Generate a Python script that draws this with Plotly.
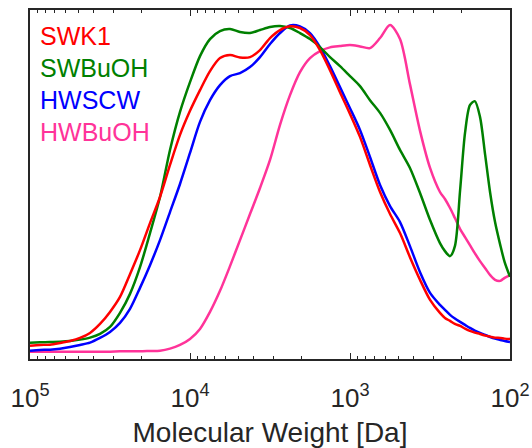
import plotly.graph_objects as go

# Molecular weight grid [Da] shared by all GPC traces
mw = [100000, 86596, 74989, 64938, 56234, 48697, 42170, 36517, 31623, 27384,
      23714, 20535, 17783, 15399, 13335, 11548, 10000, 8660, 7499, 6494,
      5623, 4870, 4217, 3652, 3162, 2738, 2371, 2054, 1778, 1540,
      1334, 1155, 1000, 866, 750, 649, 562, 487, 422, 365,
      316, 274, 255, 237, 221, 205, 191, 178, 166, 154,
      143, 133, 124, 115, 108, 100]

# Normalised detector response for each sample
swk1 = [0.040, 0.042, 0.043, 0.048, 0.054, 0.063, 0.078, 0.105, 0.141, 0.186,
        0.254, 0.326, 0.407, 0.485, 0.581, 0.671, 0.743, 0.805, 0.862, 0.901,
        0.910, 0.903, 0.904, 0.925, 0.961, 0.985, 0.996, 0.991, 0.970, 0.925,
        0.865, 0.799, 0.734, 0.665, 0.581, 0.500, 0.434, 0.377, 0.305, 0.237,
        0.177, 0.138, 0.123, 0.114, 0.105, 0.099, 0.091, 0.084, 0.079, 0.075,
        0.070, 0.067, 0.064, 0.063, 0.061, 0.060]

swbuoh = [0.049, 0.050, 0.051, 0.052, 0.054, 0.058, 0.064, 0.075, 0.096, 0.138,
          0.195, 0.275, 0.377, 0.485, 0.626, 0.740, 0.829, 0.907, 0.958, 0.982,
          0.988, 0.979, 0.976, 0.985, 0.994, 0.997, 0.991, 0.976, 0.958, 0.934,
          0.904, 0.877, 0.847, 0.817, 0.775, 0.737, 0.686, 0.626, 0.572, 0.497,
          0.416, 0.347, 0.323, 0.308, 0.338, 0.506, 0.677, 0.760, 0.772, 0.725,
          0.611, 0.497, 0.410, 0.341, 0.290, 0.246]

hwscw = [0.025, 0.027, 0.028, 0.031, 0.036, 0.042, 0.049, 0.063, 0.081, 0.108,
         0.150, 0.213, 0.281, 0.356, 0.440, 0.524, 0.617, 0.710, 0.775, 0.820,
         0.847, 0.856, 0.874, 0.904, 0.943, 0.976, 0.999, 0.996, 0.976, 0.934,
         0.877, 0.814, 0.751, 0.686, 0.605, 0.521, 0.458, 0.410, 0.338, 0.260,
         0.198, 0.162, 0.147, 0.132, 0.121, 0.111, 0.102, 0.093, 0.085, 0.078,
         0.072, 0.066, 0.061, 0.057, 0.054, 0.051]

hwbuoh = [0.022, 0.022, 0.022, 0.022, 0.022, 0.022, 0.022, 0.022, 0.022, 0.023,
          0.023, 0.023, 0.024, 0.025, 0.031, 0.042, 0.060, 0.090, 0.141, 0.204,
          0.278, 0.356, 0.434, 0.512, 0.596, 0.701, 0.790, 0.859, 0.901, 0.922,
          0.933, 0.937, 0.940, 0.936, 0.931, 0.961, 1.000, 0.958, 0.823, 0.683,
          0.572, 0.500, 0.479, 0.452, 0.422, 0.389, 0.365, 0.341, 0.317, 0.293,
          0.272, 0.251, 0.237, 0.234, 0.243, 0.251]

names = ["SWK1", "SWBuOH", "HWSCW", "HWBuOH"]
colors = ["#FF0000", "#008000", "#0000FF", "#FF3399"]
series = [swk1, swbuoh, hwscw, hwbuoh]

tick_vals = [1e5, 1e4, 1e3, 1e2]
tick_text = ["10<sup>5</sup>", "10<sup>4</sup>", "10<sup>3</sup>", "10<sup>2</sup>"]

axis_color = "#262626"
font_family = "Liberation Sans, Arial, sans-serif"

fig = go.Figure()

# draw back-to-front so the pink curve sits underneath
for name, col, ys in reversed(list(zip(names, colors, series))):
    fig.add_trace(go.Scatter(
        x=mw, y=ys, mode="lines", name=name,
        line=dict(color=col, width=2.5, shape="spline", smoothing=0.8),
        showlegend=False,
    ))

# coloured text legend in the upper-left corner
for i, (name, col) in enumerate(zip(names, colors)):
    fig.add_annotation(
        xref="paper", yref="paper", x=0.017, y=0.925 - i * 0.0915,
        xanchor="left", yanchor="middle", text=name, showarrow=False,
        font=dict(family=font_family, size=25, color=col),
    )

minor_vals = [m * 10 ** e for e in (2, 3, 4) for m in range(2, 10)]

fig.update_xaxes(
    type="log", range=[5, 2], automargin=False,
    tickmode="array", tickvals=tick_vals, ticktext=tick_text,
    ticks="inside", ticklen=6, tickwidth=1, tickcolor=axis_color,
    ticklabelstandoff=15,
    minor=dict(tickmode="array", tickvals=minor_vals, ticks="inside",
               ticklen=3, tickwidth=1, tickcolor=axis_color, showgrid=False),
    showline=True, linecolor=axis_color, linewidth=2, mirror="allticks",
    showgrid=False, zeroline=False,
    tickfont=dict(family=font_family, size=26, color=axis_color),
    title=dict(text="Molecular Weight [Da]", standoff=12,
               font=dict(family=font_family, size=28, color=axis_color)),
)
fig.update_yaxes(
    range=[0, 1.045], showticklabels=False, ticks="", automargin=False,
    showline=True, linecolor=axis_color, linewidth=2, mirror=True,
    showgrid=False, zeroline=False,
)

fig.update_layout(
    width=532, height=448,
    margin=dict(l=30, r=22, t=10, b=89),
    plot_bgcolor="white", paper_bgcolor="white",
)

fig.write_html("out.html")
